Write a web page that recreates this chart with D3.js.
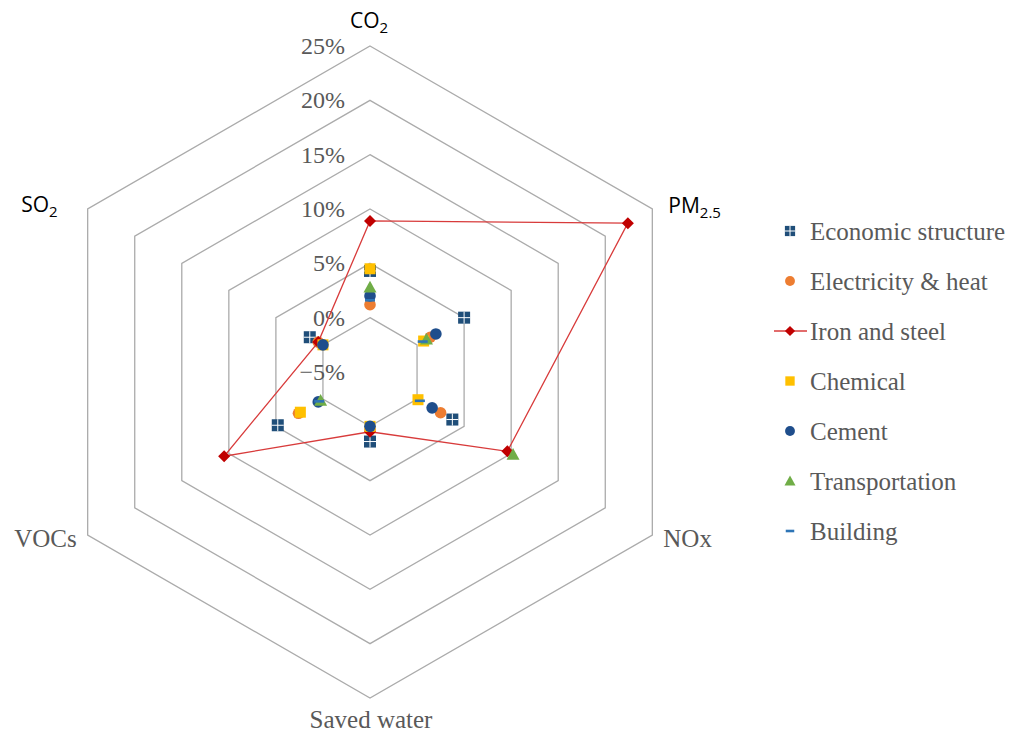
<!DOCTYPE html>
<html>
<head>
<meta charset="utf-8">
<script src="https://cdn.jsdelivr.net/npm/d3@7"></script>
<style>
  html, body { margin: 0; padding: 0; background: #fff; }
  svg { display: block; }
</style>
</head>
<body>
<svg id="chart" width="1019" height="735"></svg>
<script>
// ---- data ----
const axes = ["CO2", "PM2.5", "NOx", "Saved water", "VOCs", "SO2"];
const seriesNames = ["Economic structure", "Electricity & heat", "Iron and steel", "Chemical", "Cement", "Transportation", "Building"];
const economicStructure = [4.3, 5.0, 3.75, 1.4, 4.8, 1.4];
const electricityHeat   = [1.2, 1.4, 2.5, 0.3, 2.6, 0.5];
const ironSteel         = [8.9, 22.4, 9.6, 0.5, 10.5, 0.5];
const chemical          = [4.5, 0.7, 0.1, 0.0, 2.4, 0.0];
const cement            = [2.0, 2.0, 1.6, 0.0, 0.5, 0.0];
const transportation    = [2.8, 1.0, 10.2, null, 0.25, null];
const building          = [1.6, 0.6, 0.3, null, 0.4, null];
const ticks = [-5, 0, 5, 10, 15, 20, 25];
const tickLabels = ["\u22125%", "0%", "5%", "10%", "15%", "20%", "25%"];

// ---- layout ----
const svg = d3.select("#chart");
const cx = 370, cy = 372, R = 326;
const r = d3.scaleLinear().domain([-5, 25]).range([0, R]);
const ang = d3.scalePoint().domain(d3.range(axes.length + 1)).range([-Math.PI / 2, -Math.PI / 2 + 2 * Math.PI]);
const pt = (i, v) => [cx + r(v) * Math.cos(ang(i)), cy + r(v) * Math.sin(ang(i))];

const grey = "#595959";
const serif = "'Liberation Serif', 'Times New Roman', serif";
const sans = "'Open Sans', 'Noto Sans', sans-serif";

// grid rings
const ring = d3.line().curve(d3.curveLinearClosed);
svg.append("g").selectAll("path").data(ticks.filter(t => t > -5)).join("path")
  .attr("d", t => ring(axes.map((_, i) => pt(i, t))))
  .attr("fill", "none").attr("stroke", "#ABABAB").attr("stroke-width", 1.3);

// tick labels
svg.append("g").selectAll("text").data(ticks).join("text")
  .attr("x", cx - 25).attr("y", t => cy - r(t))
  .attr("text-anchor", "end").attr("dominant-baseline", "central")
  .attr("font-family", serif).attr("font-size", 24).attr("fill", grey)
  .text((t, i) => tickLabels[i]);

// axis labels
const labelSpec = [
  { dx: -1, dy: -18, anchor: "middle", sans: true, main: "CO", sub: "2" },
  { dx: 16, dy: 4, anchor: "start", sans: true, main: "PM", sub: "2.5" },
  { dx: 11, dy: 12, anchor: "start", sans: false, main: "NOx", sub: null },
  { dx: 1, dy: 30, anchor: "middle", sans: false, main: "Saved water", sub: null },
  { dx: -11, dy: 12, anchor: "end", sans: false, main: "VOCs", sub: null },
  { dx: -30, dy: 3, anchor: "end", sans: true, main: "SO", sub: "2" }
];
labelSpec.forEach((s, i) => {
  const [vx, vy] = pt(i, 25);
  const t = svg.append("text")
    .attr("x", vx + s.dx).attr("y", vy + s.dy)
    .attr("text-anchor", s.anchor)
    .attr("font-family", s.sans ? sans : serif)
    .attr("font-size", s.sans ? 21 : 25)
    .attr("fill", s.sans ? "#000" : grey);
  t.append("tspan").text(s.main);
  if (s.sub) t.append("tspan").attr("font-size", 15).attr("dy", 5).text(s.sub);
});

// series
const colors = ["#1F4E79", "#ED7D31", "#C00000", "#FFC000", "#1F4E8C", "#70AD47", "#2E75B6"];
const data = [economicStructure, electricityHeat, ironSteel, chemical, cement, transportation, building];

function drawMarker(g, k, x, y, legend) {
  const s = legend ? 0.85 : 1;
  const c = colors[k];
  if (k === 0) {
    const h = 6 * s;
    g.append("rect").attr("x", x - h).attr("y", y - h).attr("width", 2 * h).attr("height", 2 * h).attr("fill", c);
    g.append("line").attr("x1", x).attr("x2", x).attr("y1", y - h).attr("y2", y + h).attr("stroke", "#fff").attr("stroke-width", 1);
    g.append("line").attr("y1", y).attr("y2", y).attr("x1", x - h).attr("x2", x + h).attr("stroke", "#fff").attr("stroke-width", 1);
  } else if (k === 1 || k === 4) {
    g.append("circle").attr("cx", x).attr("cy", y).attr("r", 5.8 * s).attr("fill", c);
  } else if (k === 2) {
    const h = 6 * s;
    g.append("path").attr("d", `M${x},${y - h}L${x + h},${y}L${x},${y + h}L${x - h},${y}Z`).attr("fill", c);
  } else if (k === 3) {
    const h = 5.5 * s;
    g.append("rect").attr("x", x - h).attr("y", y - h).attr("width", 2 * h).attr("height", 2 * h).attr("fill", c);
  } else if (k === 5) {
    const h = 6.5 * s;
    g.append("path").attr("d", `M${x},${y - h}L${x + h},${y + h * 0.8}L${x - h},${y + h * 0.8}Z`).attr("fill", c);
  } else if (k === 6) {
    g.append("rect").attr("x", x - 5 * s).attr("y", y - 1.3).attr("width", 10 * s).attr("height", 2.6).attr("fill", c);
  }
}

const line = d3.line().curve(d3.curveLinearClosed);
data.forEach((vals, k) => {
  const g = svg.append("g");
  if (k === 2) {
    g.append("path").attr("d", line(vals.map((v, i) => pt(i, v))))
      .attr("fill", "none").attr("stroke", "#D83B3B").attr("stroke-width", 1.3);
  }
  vals.forEach((v, i) => {
    if (v === null) return;
    const [x, y] = pt(i, v);
    drawMarker(g, k, x, y, false);
  });
});

// legend
const lg = svg.append("g");
seriesNames.forEach((name, k) => {
  const y = 231 + k * 50;
  if (k === 2) {
    lg.append("line").attr("x1", 774).attr("x2", 807).attr("y1", y).attr("y2", y)
      .attr("stroke", "#D83B3B").attr("stroke-width", 1.3);
  }
  drawMarker(lg, k, 790, y, true);
  lg.append("text").attr("x", 810).attr("y", y).attr("dominant-baseline", "central")
    .attr("font-family", serif).attr("font-size", 25).attr("fill", grey).text(name);
});
</script>
</body>
</html>
